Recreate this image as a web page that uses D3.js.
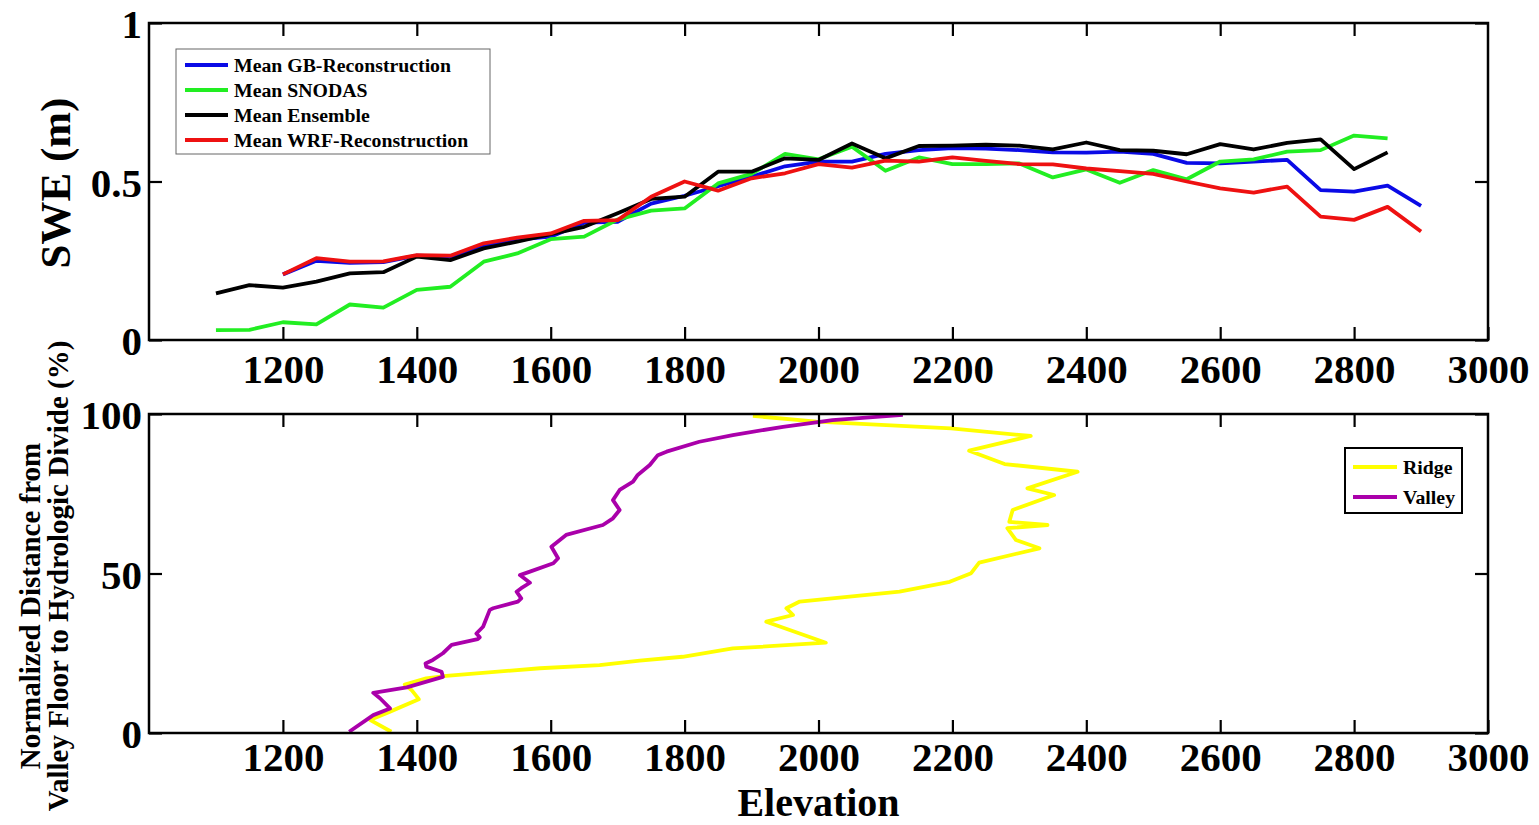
<!DOCTYPE html>
<html>
<head>
<meta charset="utf-8">
<script src="https://cdn.jsdelivr.net/npm/d3@7"></script>
<style>
  html, body { margin: 0; padding: 0; background: #fff; }
  svg { display: block; }
  text { font-family: "Liberation Serif", "Times New Roman", serif; font-weight: bold; fill: #000; }
</style>
</head>
<body>
<svg id="chart" width="1539" height="825"></svg>
<script>
// ---------- Data: top panel (mean SWE by elevation band) ----------
const elevation = [1100,1150,1200,1250,1300,1350,1400,1450,1500,1550,1600,1650,1700,1750,1800,1850,1900,1950,2000,2050,2100,2150,2200,2250,2300,2350,2400,2450,2500,2550,2600,2650,2700,2750,2800,2850,2900];
const gbRecon  = [null,null,0.207,0.250,0.243,0.246,0.266,0.263,0.297,0.317,0.326,0.370,0.373,0.430,0.455,0.485,0.515,0.548,0.563,0.563,0.587,0.599,0.605,0.604,0.599,0.592,0.591,0.594,0.587,0.559,0.557,0.563,0.568,0.473,0.468,0.487,0.423];
const snodas   = [0.031,0.032,0.056,0.049,0.112,0.102,0.158,0.168,0.247,0.273,0.318,0.326,0.380,0.408,0.415,0.494,0.524,0.587,0.570,0.610,0.534,0.576,0.555,0.555,0.557,0.513,0.538,0.496,0.536,0.507,0.563,0.570,0.594,0.599,0.645,0.636,null];
const ensemble = [0.147,0.173,0.165,0.184,0.210,0.214,0.263,0.252,0.289,0.310,0.334,0.357,0.400,0.445,0.452,0.531,0.531,0.573,0.568,0.620,0.573,0.612,0.613,0.616,0.613,0.601,0.623,0.599,0.597,0.586,0.618,0.601,0.622,0.633,0.539,0.592,null];
const wrfRecon = [null,null,0.207,0.258,0.247,0.248,0.268,0.266,0.305,0.323,0.336,0.376,0.378,0.452,0.500,0.471,0.510,0.526,0.555,0.544,0.566,0.563,0.576,0.565,0.555,0.554,0.541,0.533,0.524,0.500,0.478,0.465,0.484,0.389,0.379,0.420,0.342];
const topSeriesNames = ["Mean GB-Reconstruction","Mean SNODAS","Mean Ensemble","Mean WRF-Reconstruction"];
const topColors = ["#0a0ae6","#22ee22","#000000","#ee1111"];

// ---------- Data: bottom panel (elevation profile vs normalized distance) ----------
const valleyElev = [1299,1335,1360,1345,1335,1385,1439,1437,1414,1413,1424,1439,1452,1491,1494,1489,1499,1509,1514,1551,1556,1549,1556,1569,1554,1569,1604,1611,1601,1623,1678,1693,1703,1693,1703,1723,1730,1748,1760,1773,1822,1872,1947,2021,2126];
const valleyPct  = [0.4,5.6,7.7,10.9,12.6,14.3,17.6,19.2,20.8,21.8,22.9,25.0,27.6,29.4,30.0,31.2,33.3,38.6,39.1,41.2,42.2,44.3,45.4,47.1,49.5,50.6,53.2,54.8,58.4,62.1,65.2,67.3,69.9,73.0,76.2,78.8,80.9,84.0,87.1,88.2,91.3,93.4,96.0,98.1,99.7];
const ridgeElev  = [1362,1330,1360,1403,1392,1382,1414,1444,1584,1673,1733,1797,1872,2011,1922,1962,1952,1972,2121,2196,2228,2240,2330,2295,2282,2342,2285,2290,2352,2312,2387,2278,2225,2317,2198,1997,1902];
const ridgePct   = [0.4,4.1,6.7,10.6,13.5,15.2,17.1,17.9,20.3,21.3,22.7,23.9,26.5,28.3,34.9,37.0,39.1,41.2,44.3,47.4,50.1,53.4,57.9,60.5,64.2,65.2,66.2,69.9,74.6,76.7,81.9,84.3,88.5,93.1,95.5,97.6,99.4];
const bottomSeriesNames = ["Ridge","Valley"];
const bottomColors = ["#ffff00","#aa00aa"];

// ---------- Tick labels ----------
const xTicks = [1200,1400,1600,1800,2000,2200,2400,2600,2800,3000];
const sweTicks = [0,0.5,1];
const pctTicks = [0,50,100];

// ---------- Layout ----------
const svg = d3.select("#chart");
const L = 149, R = 1488;
const top1 = 23, bot1 = 340;
const top2 = 414, bot2 = 733;

const x = d3.scaleLinear().domain([1000,3000]).range([L,R]);
const y1 = d3.scaleLinear().domain([0,1]).range([bot1,top1]);
const y2 = d3.scaleLinear().domain([0,100]).range([bot2,top2]);

const tickFont = 41;
const tickLen = 13;

function drawAxes(y, yTop, yBot, yTicks, xPad) {
  const g = svg.append("g");
  const ab = g.append("g").attr("transform", `translate(0,${yBot})`)
    .call(d3.axisBottom(x).tickValues(xTicks).tickSize(-tickLen).tickPadding(xPad).tickFormat(d3.format("d")));
  const at = g.append("g").attr("transform", `translate(0,${yTop})`)
    .call(d3.axisTop(x).tickValues(xTicks.filter(d => d < 3000)).tickSize(-tickLen).tickFormat(""));
  const al = g.append("g").attr("transform", `translate(${L},0)`)
    .call(d3.axisLeft(y).tickValues(yTicks).tickSize(-tickLen).tickPadding(7).tickFormat(d => String(d)));
  const ar = g.append("g").attr("transform", `translate(${R},0)`)
    .call(d3.axisRight(y).tickValues(yTicks).tickSize(-tickLen).tickFormat(""));
  [ab, at, al, ar].forEach(a => {
    a.select(".domain").remove();
    a.selectAll(".tick line").attr("stroke", "#000").attr("stroke-width", 2.2);
    a.selectAll(".tick text")
      .style("font-family", '"Liberation Serif", "Times New Roman", serif')
      .style("font-weight", "bold")
      .attr("font-size", tickFont).attr("fill", "#000");
  });
  al.selectAll(".tick text").attr("dy", "0.36em");
  g.append("rect").attr("x", L).attr("y", yTop).attr("width", R - L).attr("height", yBot - yTop)
    .attr("fill", "none").attr("stroke", "#000").attr("stroke-width", 2.5);
}

// ---------- Top panel lines ----------
const topSeries = [gbRecon, snodas, ensemble, wrfRecon];
const line1 = d3.line()
  .defined(d => d[1] !== null)
  .x(d => x(d[0])).y(d => y1(d[1]));
topSeries.forEach((s, i) => {
  svg.append("path")
    .datum(elevation.map((e, k) => [e, s[k]]))
    .attr("d", line1)
    .attr("fill", "none")
    .attr("stroke", topColors[i])
    .attr("stroke-width", 3.8)
    .attr("stroke-linejoin", "round");
});
drawAxes(y1, top1, bot1, sweTicks, 14);

// top legend
const lg1 = svg.append("g");
lg1.append("rect").attr("x", 176).attr("y", 49).attr("width", 314).attr("height", 105)
  .attr("fill", "#fff").attr("stroke", "#666").attr("stroke-width", 1);
topSeriesNames.forEach((n, i) => {
  const yy = 65 + i * 25;
  lg1.append("line").attr("x1", 185).attr("x2", 228).attr("y1", yy).attr("y2", yy)
    .attr("stroke", topColors[i]).attr("stroke-width", 3.8);
  lg1.append("text").attr("x", 234).attr("y", yy).attr("dy", "0.33em")
    .attr("font-size", 19.8).text(n);
});

// ---------- Bottom panel lines ----------
const line2 = d3.line().x(d => x(d[0])).y(d => y2(d[1]));
const ridgeData = ridgeElev.map((e, k) => [e, ridgePct[k]]);
const valleyData = valleyElev.map((e, k) => [e, valleyPct[k]]);
[ridgeData, valleyData].forEach((dat, i) => {
  svg.append("path").datum(dat).attr("d", line2)
    .attr("fill", "none").attr("stroke", bottomColors[i])
    .attr("stroke-width", 3.8).attr("stroke-linejoin", "round");
});
drawAxes(y2, top2, bot2, pctTicks, 9);

// bottom legend
const lg2 = svg.append("g");
lg2.append("rect").attr("x", 1345).attr("y", 448).attr("width", 117).attr("height", 65)
  .attr("fill", "#fff").attr("stroke", "#000").attr("stroke-width", 2);
bottomSeriesNames.forEach((n, i) => {
  const yy = 467 + i * 30;
  lg2.append("line").attr("x1", 1353).attr("x2", 1397).attr("y1", yy).attr("y2", yy)
    .attr("stroke", bottomColors[i]).attr("stroke-width", 3.8);
  lg2.append("text").attr("x", 1403).attr("y", yy).attr("dy", "0.33em")
    .attr("font-size", 19.8).text(n);
});

// ---------- Axis titles ----------
svg.append("text").attr("transform", "translate(70,183) rotate(-90)")
  .attr("text-anchor", "middle").attr("font-size", 43).text("SWE (m)");
svg.append("text").attr("transform", "translate(40,606) rotate(-90)")
  .attr("text-anchor", "middle").attr("font-size", 29).text("Normalized Distance from");
svg.append("text").attr("transform", "translate(68,576) rotate(-90)")
  .attr("text-anchor", "middle").attr("font-size", 29).text("Valley Floor to Hydrologic Divide (%)");
svg.append("text").attr("x", (L + R) / 2).attr("y", 816)
  .attr("text-anchor", "middle").attr("font-size", 40).text("Elevation");
</script>
</body>
</html>
